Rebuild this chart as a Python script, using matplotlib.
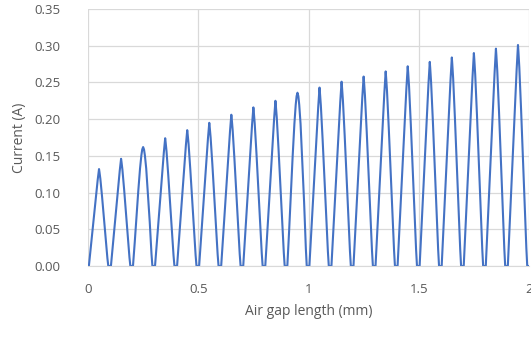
import numpy as np
import matplotlib.pyplot as plt

# peak current of each 0.1 mm cycle (A)
peak_current = [0.132, 0.146, 0.162, 0.174, 0.185, 0.195, 0.206, 0.216, 0.225, 0.236,
                0.243, 0.251, 0.258, 0.265, 0.272, 0.278, 0.284, 0.290, 0.296, 0.301]
cycle_len = 0.1
rounded_cycles = [2, 9]

# shape of one cycle: offset within cycle (mm) and fraction of the peak
prof_off = [0.0, 0.004, 0.012, 0.02, 0.028, 0.036, 0.044, 0.048, 0.05, 0.052, 0.056, 0.064, 0.072, 0.08, 0.088, 0.092, 0.1]
prof_val = [0.0, 0.0, 0.18, 0.36, 0.54, 0.72, 0.89, 0.97, 1.0, 0.97, 0.9, 0.71, 0.5, 0.3, 0.08, 0.0, 0.0]
# a few cycles have a blunter top
round_off = [0.0, 0.004, 0.012, 0.02, 0.028, 0.036, 0.042, 0.046, 0.05, 0.054, 0.058, 0.064, 0.072, 0.08, 0.088, 0.092, 0.1]
round_val = [0.0, 0.0, 0.2, 0.42, 0.63, 0.82, 0.93, 0.98, 1.0, 0.98, 0.93, 0.82, 0.6, 0.37, 0.1, 0.0, 0.0]

xs, ys = [], []
for k, pk in enumerate(peak_current):
    off, val = (round_off, round_val) if k in rounded_cycles else (prof_off, prof_val)
    for o, v in zip(off, val):
        xs.append(k * cycle_len + o)
        ys.append(pk * v)

txt = '#595959'
grid = '#d9d9d9'
plt.rcParams['font.family'] = ['Open Sans', 'DejaVu Sans']

fig = plt.figure(figsize=(5.31, 3.37), dpi=100)
ax = fig.add_axes([88 / 531, 1 - 266 / 337, 441 / 531, 257 / 337])
ax.plot(xs, ys, color='#4472C4', lw=1.5, solid_joinstyle='round')

ax.set_xlim(0, 2)
ax.set_ylim(0, 0.35)
ax.set_xticks([0, 0.5, 1, 1.5, 2])
ax.set_xticklabels(['0', '0.5', '1', '1.5', '2'])
ax.set_yticks(np.arange(0, 0.351, 0.05))
ax.set_yticklabels(['%.2f' % v for v in np.arange(0, 0.351, 0.05)])
ax.grid(True, color=grid, lw=0.9)
ax.set_axisbelow(True)
for s in ['left', 'right', 'top']:
    ax.spines[s].set_visible(False)
ax.spines['bottom'].set_color(grid)
ax.tick_params(length=0, colors=txt, labelsize=9.5, pad=12)
ax.tick_params(axis='y', pad=20)
ax.set_xlabel('Air gap length (mm)', color=txt, fontsize=10, labelpad=6)
ax.set_ylabel('Current (A)', color=txt, fontsize=10, labelpad=5)

fig.savefig('out.png', dpi=100)
